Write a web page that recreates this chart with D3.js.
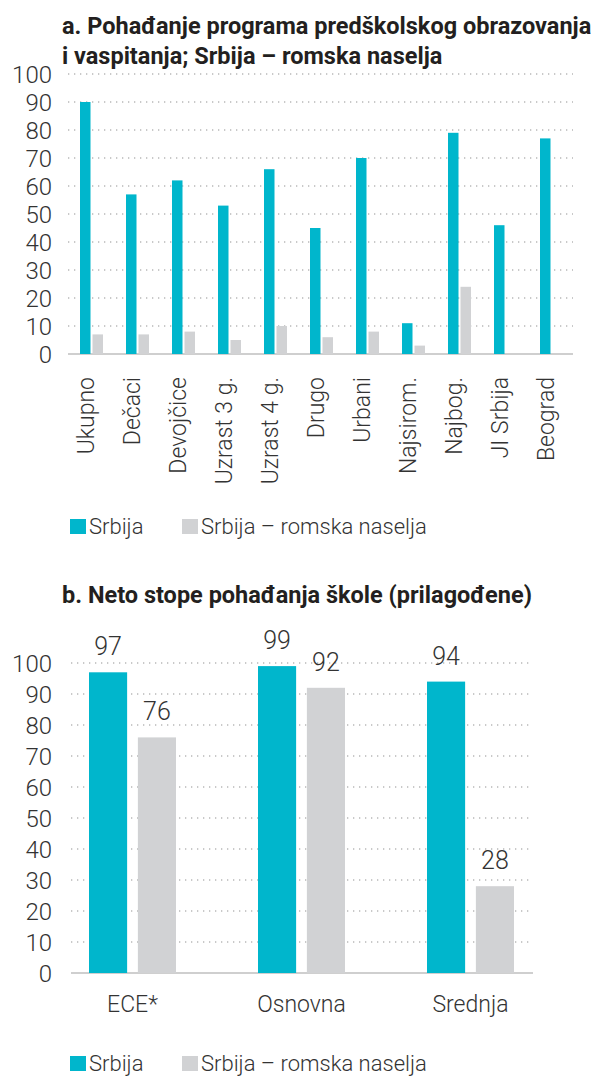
<!DOCTYPE html>
<meta charset="utf-8">
<style>

body {
  margin: 0;
  background: #fff;
}

svg {
  display: block;
  font-family: Roboto, "Open Sans", sans-serif;
}

.title {
  font-size: 23.5px;
  font-weight: 700;
  fill: #231f20;
}

.tick-label,
.cat-label,
.legend-label,
.value-label {
  font-weight: 300;
  fill: #333;
}

.grid line {
  stroke: #b8b8b8;
  stroke-width: 1.3;
  stroke-dasharray: 1.3,4.7;
}

.baseline {
  stroke: #cfcfcf;
  stroke-width: 2;
}

</style>
<body>
<script src="https://cdn.jsdelivr.net/npm/d3@7"></script>
<script>

// chart a: predskolsko obrazovanje
var categoriesA = ["Ukupno", "Dečaci", "Devojčice", "Uzrast 3 g.", "Uzrast 4 g.",
                   "Drugo", "Urbani", "Najsirom.", "Najbog.", "JI Srbija", "Beograd"];
var srbijaA = [90, 57, 62, 53, 66, 45, 70, 11, 79, 46, 77];
var romaA = [7, 7, 8, 5, 10, 6, 8, 3, 24, null, null];

// chart b: neto stope pohadjanja skole
var categoriesB = ["ECE*", "Osnovna", "Srednja"];
var srbijaB = [97, 99, 94];
var romaB = [76, 92, 28];

var yTickValues = [0, 10, 20, 30, 40, 50, 60, 70, 80, 90, 100];
var seriesNames = ["Srbija", "Srbija – romska naselja"];

var color = d3.scaleOrdinal()
    .domain(seriesNames)
    .range(["#00b6cc", "#d1d2d4"]);

var width = 598,
    height = 1077;

var svg = d3.select("body").append("svg")
    .attr("width", width)
    .attr("height", height);

function tableOf(cats, a, b) {
  return cats.map(function(c, i) {
    return {cat: c, values: [
      {key: seriesNames[0], value: a[i]},
      {key: seriesNames[1], value: b[i]}
    ]};
  });
}

function drawGrid(g, y, x1, x2) {
  g.append("g")
      .attr("class", "grid")
    .selectAll("line")
      .data(yTickValues.slice(1))
    .enter().append("line")
      .attr("x1", x1)
      .attr("x2", x2)
      .attr("y1", function(d) { return y(d); })
      .attr("y2", function(d) { return y(d); });

  g.append("line")
      .attr("class", "baseline")
      .attr("x1", x1)
      .attr("x2", x2)
      .attr("y1", y(0))
      .attr("y2", y(0));

  g.append("g")
    .selectAll("text")
      .data(yTickValues)
    .enter().append("text")
      .attr("class", "tick-label")
      .attr("x", 52)
      .attr("y", function(d) { return y(d); })
      .attr("dy", "0.36em")
      .style("font-size", "24px")
      .style("text-anchor", "end")
      .text(function(d) { return d; });
}

function drawLegend(g, top) {
  var item = g.append("g")
    .selectAll("g")
      .data(seriesNames)
    .enter().append("g")
      .attr("transform", function(d, i) { return "translate(" + (70 + i * 112) + "," + top + ")"; });

  item.append("rect")
      .attr("width", 16)
      .attr("height", 15)
      .style("fill", color);

  item.append("text")
      .attr("class", "legend-label")
      .attr("x", 19)
      .attr("y", 15)
      .style("font-size", "22px")
      .text(function(d) { return d; });
}

//
// chart a
var dataA = tableOf(categoriesA, srbijaA, romaA);

var yA = d3.scaleLinear()
    .domain([0, 100])
    .range([354, 74]);

var x0A = d3.scaleBand()
    .domain(categoriesA)
    .range([68, 574]);

var x1A = d3.scaleBand()
    .domain(seriesNames)
    .range([12, 35])
    .paddingInner(0.16);

var chartA = svg.append("g");

chartA.append("text")
    .attr("class", "title")
    .attr("x", 62)
    .attr("y", 34)
  .selectAll("tspan")
    .data(["a. Pohađanje programa predškolskog obrazovanja",
           "i vaspitanja; Srbija – romska naselja"])
  .enter().append("tspan")
    .attr("x", 62)
    .attr("dy", function(d, i) { return i ? 30 : 0; })
    .text(function(d) { return d; });

drawGrid(chartA, yA, 68, 573);

chartA.append("g")
  .selectAll("g")
    .data(dataA)
  .enter().append("g")
    .attr("transform", function(d) { return "translate(" + x0A(d.cat) + ",0)"; })
  .selectAll("rect")
    .data(function(d) { return d.values.filter(function(v) { return v.value != null; }); })
  .enter().append("rect")
    .attr("x", function(d) { return x1A(d.key); })
    .attr("width", x1A.bandwidth())
    .attr("y", function(d) { return yA(d.value); })
    .attr("height", function(d) { return yA(0) - yA(d.value); })
    .style("fill", function(d) { return color(d.key); });

chartA.append("g")
  .selectAll("text")
    .data(categoriesA)
  .enter().append("text")
    .attr("class", "cat-label")
    .attr("transform", function(d) {
      return "translate(" + (x0A(d) + x0A.bandwidth() / 2 + 3) + "," + (yA(0) + 23) + ") rotate(-90)";
    })
    .style("font-size", "23px")
    .style("text-anchor", "end")
    .text(function(d) { return d; });

drawLegend(chartA, 519);

//
// chart b
var dataB = tableOf(categoriesB, srbijaB, romaB);

var yB = d3.scaleLinear()
    .domain([0, 100])
    .range([973, 663]);

var x0B = d3.scaleBand()
    .domain(categoriesB)
    .range([48, 555]);

var x1B = d3.scaleBand()
    .domain(seriesNames)
    .range([41, 128])
    .paddingInner(0.22);

var chartB = svg.append("g");

chartB.append("text")
    .attr("class", "title")
    .attr("x", 62)
    .attr("y", 603)
    .text("b. Neto stope pohađanja škole (prilagođene)");

drawGrid(chartB, yB, 71, 533);

var groupB = chartB.append("g")
  .selectAll("g")
    .data(dataB)
  .enter().append("g")
    .attr("transform", function(d) { return "translate(" + x0B(d.cat) + ",0)"; });

groupB.selectAll("rect")
    .data(function(d) { return d.values; })
  .enter().append("rect")
    .attr("x", function(d) { return x1B(d.key); })
    .attr("width", x1B.bandwidth())
    .attr("y", function(d) { return yB(d.value); })
    .attr("height", function(d) { return yB(0) - yB(d.value); })
    .style("fill", function(d) { return color(d.key); });

groupB.selectAll(".value-label")
    .data(function(d) { return d.values; })
  .enter().append("text")
    .attr("class", "value-label")
    .attr("x", function(d) { return x1B(d.key) + x1B.bandwidth() / 2; })
    .attr("y", function(d) { return yB(d.value) - 17; })
    .style("font-size", "25px")
    .style("text-anchor", "middle")
    .text(function(d) { return d.value; });

chartB.append("g")
  .selectAll("text")
    .data(categoriesB)
  .enter().append("text")
    .attr("class", "cat-label")
    .attr("x", function(d) { return x0B(d) + (x1B.range()[0] + x1B.range()[1]) / 2; })
    .attr("y", 1012)
    .style("font-size", "23px")
    .style("text-anchor", "middle")
    .text(function(d) { return d; });

drawLegend(chartB, 1056);

</script>
